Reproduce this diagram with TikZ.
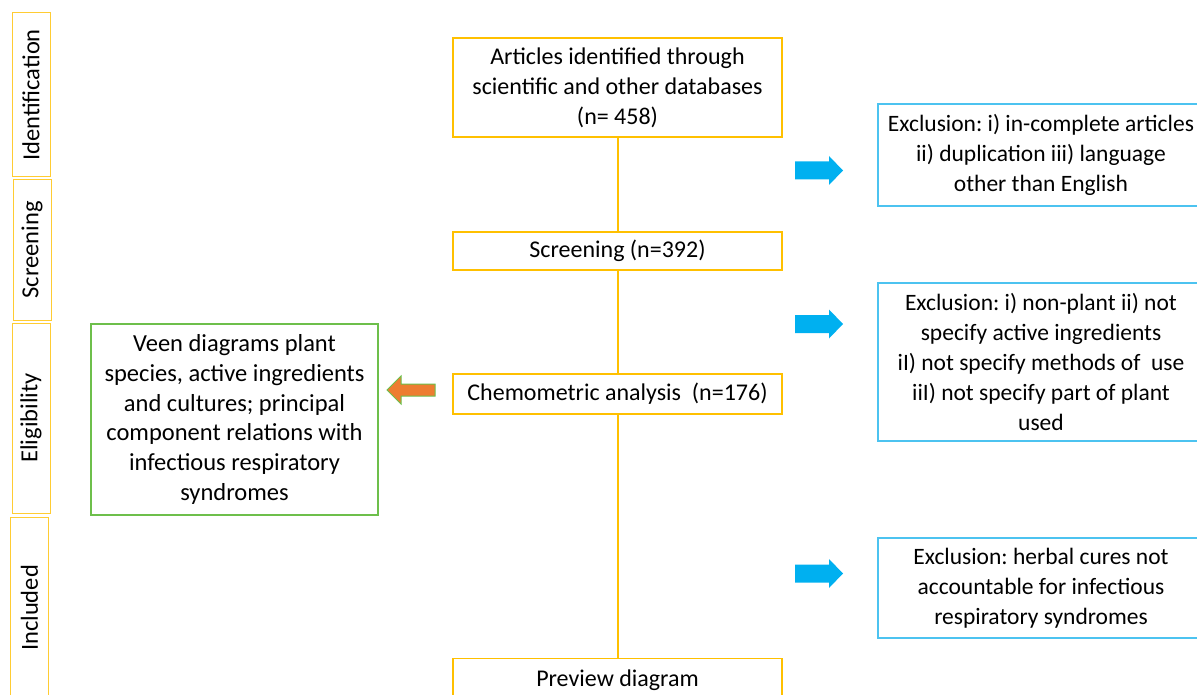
\documentclass[tikz,border=0pt]{standalone}
\usepackage{fontspec}
\setmainfont{Carlito}
\frenchspacing
\definecolor{gold}{HTML}{FFC000}
\definecolor{stagegold}{HTML}{FFCC33}
\definecolor{exblue}{HTML}{4CC3F0}
\definecolor{arrblue}{HTML}{00B0F0}
\definecolor{grn}{HTML}{6DBF4B}
\definecolor{orng}{HTML}{ED7D31}
\tikzset{
  mainbox/.style={draw=gold, line width=1.2pt, minimum width=329pt, inner sep=0pt, align=center, font=\fontsize{24}{30}\selectfont},
  exbox/.style={draw=exblue, line width=1.2pt, minimum width=326pt, inner sep=0pt, align=center, font=\fontsize{23.5}{30}\selectfont},
  stagebox/.style={draw=stagegold, line width=1pt, minimum width=38pt, inner sep=0pt},
  stagelabel/.style={rotate=90, font=\fontsize{24.5}{28}\selectfont},
  flowline/.style={draw=gold, line width=2pt},
}
\begin{document}
\begin{tikzpicture}[x=1pt,y=-1pt]
\useasboundingbox (0,0) rectangle (1197,695);
% stage boxes
\node[stagebox, minimum height=164pt] (sid) at (31,95) {};
\node[stagelabel] (lid) at (sid.center) {Identification};
\node[stagebox, minimum height=140pt] (ssc) at (32,250) {};
\node[stagelabel] (lsc) at (ssc.center) {Screening};
\node[stagebox, minimum height=190pt] (sel) at (31,418) {};
\node[stagelabel] (lel) at (sel.center) {Eligibility};
\node[stagebox, minimum height=190pt] (sin) at (29.5,612) {};
\node[stagelabel] (lin) at (29.5,608) {Included};
% main flow
\node[mainbox, minimum height=99pt] (top) at (617.5,87.5) {Articles identified through\\scientific and other databases\\(n= 458)};
\node[mainbox, minimum height=38pt] (scr) at (617.5,251) {Screening (n=392)};
\node[mainbox, minimum height=40pt] (chem) at (617.5,394) {Chemometric analysis~~(n=176)};
\node[mainbox, minimum height=44pt, anchor=north] (prev) at (617.5,658) {\raisebox{-4pt}{Preview diagram}};
\draw[flowline] (top.south) -- (scr.north);
\draw[flowline] (scr.south) -- (chem.north);
\draw[flowline] (chem.south) -- (prev.north);
% exclusion boxes
\node[exbox, minimum height=102pt] (ex1) at (1041,155) {Exclusion: i) in-complete articles\\ii) duplication iii) language\\other than English};
\node[exbox, minimum height=158pt] (ex2) at (1041,362) {Exclusion: i) non-plant ii) not\\specify active ingredients\\iI) not specify methods of~~use\\iiI) not specify part of plant\\used};
\node[exbox, minimum height=100pt] (ex3) at (1041,588) {Exclusion: herbal cures not\\accountable for infectious\\respiratory syndromes};
% green box
\node[draw=grn, line width=1.2pt, minimum width=287pt, minimum height=191pt, inner sep=0pt, align=center, font=\fontsize{24.5}{29.8}\selectfont] (veen) at (234.5,419.5) {Veen diagrams plant\\species, active ingredients\\and cultures; principal\\component relations with\\infectious respiratory\\syndromes};
% blue arrows
\foreach \yc/\nm in {170.5/a1, 324/a2, 573.5/a3}{
  \coordinate (\nm) at (795,\yc);
  \fill[arrblue] (795,\yc-9) -- (829,\yc-9) -- (829,\yc-14.5) -- (843,\yc) -- (829,\yc+14.5) -- (829,\yc+9) -- (795,\yc+9) -- cycle;
}
% orange arrow
\coordinate (oa) at (435,390);
\filldraw[fill=orng, draw=grn, line width=1pt] (435,384) -- (401,384) -- (401,376) -- (387,390) -- (401,404) -- (401,396) -- (435,396) -- cycle;
\end{tikzpicture}
\end{document}
